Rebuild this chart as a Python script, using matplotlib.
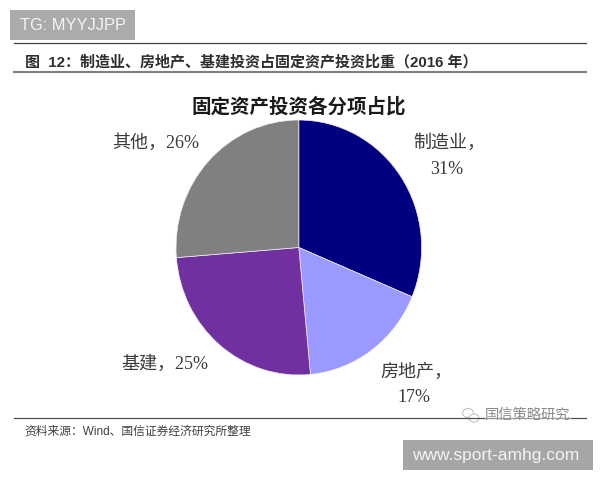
#!/usr/bin/env python3
"""
Pie chart of fixed asset investment shares, 2016.
"""

import matplotlib.pyplot as plt
from matplotlib.patches import Ellipse, Rectangle

# Shares of fixed asset investment (percent)
categories = ['制造业', '房地产', '基建', '其他']
shares = [31, 17, 25, 26]
colors = ['#000080', '#9999FF', '#7030A0', '#808080']

chart_title = '固定资产投资各分项占比'
figure_title = '图  12：制造业、房地产、基建投资占固定资产投资比重（2016 年）'
source_note = '资料来源：Wind、国信证券经济研究所整理'
top_tag = 'TG: MYYJJPP'
bottom_tag = 'www.sport-amhg.com'
account_name = '国信策略研究'

SANS = ['Liberation Sans', 'Noto Sans CJK SC']
SERIF = ['Liberation Serif', 'Noto Sans CJK SC']

fig = plt.figure(figsize=(6, 4.8), dpi=100, facecolor='white')

# Page layer in pixel coordinates, origin at the top left
page = fig.add_axes([0, 0, 1, 1])
page.set_xlim(0, 600)
page.set_ylim(480, 0)
page.axis('off')

# Header and footer rules
page.plot([14, 586], [43, 43], color='#404040', linewidth=0.9)
page.plot([14, 586], [72, 72], color='#808080', linewidth=1.5)
page.plot([14, 586], [417.5, 417.5], color='#505050', linewidth=0.9)

page.text(25, 62, figure_title, family=SANS, fontsize=10.8, fontweight='bold',
          color='#2e2e2e', ha='left', va='center')
page.text(24, 432, source_note, family=SANS, fontsize=8.5,
          color='#404040', ha='left', va='center')
page.text(299, 107, chart_title, family=SERIF, fontsize=14, fontweight='bold',
          color='#1a1a1a', ha='center', va='center')

# Grey tags
page.add_patch(Rectangle((10, 10), 125, 30, facecolor='#ababab', edgecolor='none'))
page.text(20, 25.5, top_tag, family=SANS, fontsize=11.8, color='#f4f4f4',
          ha='left', va='center')
page.add_patch(Rectangle((403, 440), 190, 30, facecolor='#a6a6a6', edgecolor='none'))
page.text(496, 455.5, bottom_tag, family=SANS, fontsize=12.5, color='#f4f4f4',
          ha='center', va='center')

# Account name and chat icon sitting over the footer rule
page.text(528, 415, account_name, family=SANS, fontsize=10.3, color='#8c8c8c',
          ha='center', va='center',
          bbox=dict(facecolor='white', edgecolor='none', alpha=0.45, pad=0.5))
page.add_patch(Ellipse((468, 413), 11, 9, facecolor='white', edgecolor='#c4c4c4', linewidth=0.8))
page.add_patch(Ellipse((474, 418), 10, 8, facecolor='white', edgecolor='#c4c4c4', linewidth=0.8))

# The pie is slightly taller than wide, so the axes box sets its shape
pie_cx, pie_cy, pie_rx, pie_ry = 298.8, 247.5, 122.8, 127.5
pie_ax = fig.add_axes([(pie_cx - pie_rx) / 600, (480 - pie_cy - pie_ry) / 480,
                       2 * pie_rx / 600, 2 * pie_ry / 480])
pie_ax.pie(shares, colors=colors, startangle=90, counterclock=False, radius=1,
           wedgeprops=dict(edgecolor='#f4eef8', linewidth=0.5))
pie_ax.set_aspect('auto')
pie_ax.set_xlim(-1, 1)
pie_ax.set_ylim(-1, 1)

# Slice labels: manufacturing and real estate wrap onto two lines
label_style = dict(family=SERIF, fontsize=13, color='#3a3a3a', va='center')
page.text(413, 143, f'{categories[0]}，', ha='left', **label_style)
page.text(447, 170, f'{shares[0]}%', ha='center', **label_style)
page.text(380, 372, f'{categories[1]}，', ha='left', **label_style)
page.text(414, 398, f'{shares[1]}%', ha='center', **label_style)
page.text(121, 364, f'{categories[2]}，{shares[2]}%', ha='left', **label_style)
page.text(112, 143, f'{categories[3]}，{shares[3]}%', ha='left', **label_style)

plt.savefig('out.png', dpi=100)
